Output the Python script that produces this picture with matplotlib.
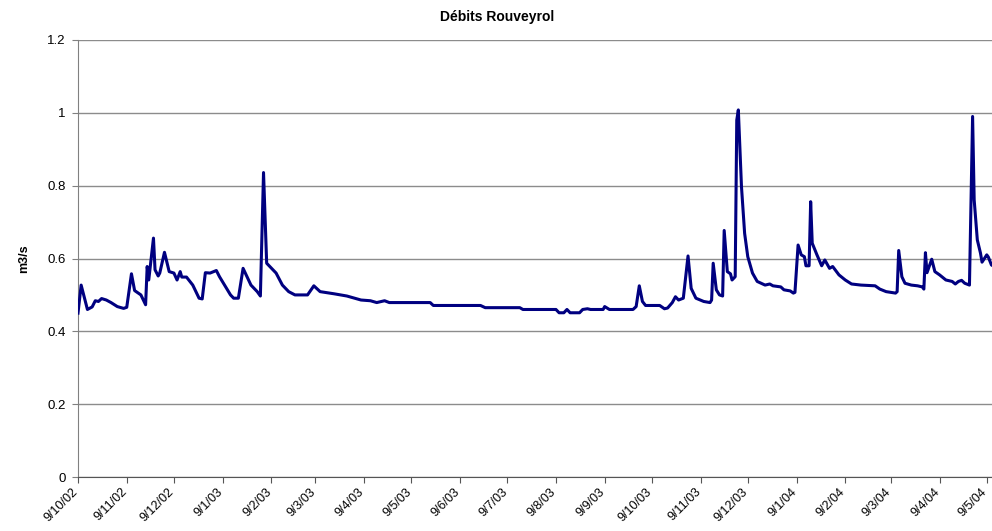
import matplotlib
matplotlib.use("Agg")
import matplotlib.pyplot as plt
import matplotlib.transforms as mtransforms
import pandas as pd

title = "Débits Rouveyrol"
ylabel = "m3/s"
start_date = "2002-10-09"

# days since 9/10/02 and flow (m3/s)
days = [0, 2, 6, 9, 11, 13, 15, 18, 21, 25, 29, 31, 34, 36, 40, 43, 44, 45, 48, 49,
        51, 52, 55, 58, 61, 63, 65, 66, 69, 73, 77, 79, 81, 84, 88, 90, 95, 97, 99, 102,
        105, 110, 114, 116, 118, 120, 122, 126, 130, 134, 138, 146, 150, 154, 163, 171, 180, 186, 190, 195,
        198, 224, 226, 256, 259, 281, 283, 304, 306, 309, 311, 313, 319, 321, 324, 326, 334, 335, 338, 353,
        355, 357, 359, 361, 370, 373, 375, 378, 380, 382, 385, 388, 390, 393, 398, 402, 403, 404, 406, 408,
        410, 411, 413, 415, 416, 418, 419, 420, 422, 424, 426, 429, 432, 437, 440, 442, 447, 449, 453, 455,
        456, 458, 460, 462, 463, 465, 466, 467, 470, 473, 475, 478, 480, 484, 488, 492, 498, 507, 510, 514,
        520, 521, 522, 524, 526, 530, 534, 537, 538, 539, 540, 543, 545, 548, 552, 556, 558, 560, 562, 564,
        567, 569, 570, 572, 574, 575, 578, 579, 581, 583]
flow = [0.450, 0.527, 0.460, 0.467, 0.484, 0.482, 0.490, 0.486, 0.479, 0.468, 0.463, 0.466, 0.558, 0.512, 0.500, 0.473, 0.578, 0.541, 0.656, 0.569,
        0.552, 0.560, 0.617, 0.564, 0.560, 0.541, 0.564, 0.549, 0.549, 0.527, 0.491, 0.489, 0.561, 0.560, 0.567, 0.550, 0.514, 0.500, 0.491, 0.491,
        0.573, 0.527, 0.509, 0.497, 0.836, 0.587, 0.578, 0.560, 0.527, 0.509, 0.500, 0.500, 0.525, 0.509, 0.503, 0.497, 0.486, 0.484, 0.479, 0.484,
        0.479, 0.479, 0.471, 0.471, 0.465, 0.465, 0.460, 0.460, 0.451, 0.451, 0.460, 0.451, 0.451, 0.460, 0.462, 0.460, 0.460, 0.468, 0.460, 0.460,
        0.468, 0.525, 0.482, 0.471, 0.471, 0.462, 0.464, 0.479, 0.495, 0.486, 0.491, 0.607, 0.518, 0.491, 0.482, 0.479, 0.486, 0.587, 0.514, 0.500,
        0.497, 0.677, 0.564, 0.558, 0.541, 0.550, 0.980, 1.008, 0.797, 0.669, 0.605, 0.560, 0.537, 0.527, 0.530, 0.525, 0.522, 0.514, 0.511, 0.505,
        0.507, 0.637, 0.610, 0.605, 0.580, 0.580, 0.756, 0.642, 0.610, 0.580, 0.596, 0.573, 0.578, 0.555, 0.541, 0.530, 0.527, 0.525, 0.516, 0.509,
        0.505, 0.509, 0.622, 0.550, 0.532, 0.527, 0.525, 0.522, 0.516, 0.616, 0.561, 0.598, 0.564, 0.555, 0.541, 0.537, 0.530, 0.537, 0.540, 0.532,
        0.527, 0.990, 0.761, 0.651, 0.615, 0.590, 0.610, 0.604, 0.582, 0.578]

tick_labels = ["9/10/02", "9/11/02", "9/12/02", "9/1/03", "9/2/03", "9/3/03", "9/4/03", "9/5/03",
               "9/6/03", "9/7/03", "9/8/03", "9/9/03", "9/10/03", "9/11/03", "9/12/03", "9/1/04",
               "9/2/04", "9/3/04", "9/4/04", "9/5/04"]
y_ticks = [0, 0.2, 0.4, 0.6, 0.8, 1.0, 1.2]
y_tick_labels = ["0", "0.2", "0.4", "0.6", "0.8", "1", "1.2"]

plt.rcParams["font.family"] = ["Liberation Sans", "DejaVu Sans"]

t0 = pd.Timestamp(start_date)
dates = t0 + pd.to_timedelta(days, unit="D")
tick_dates = pd.to_datetime(tick_labels, format="%d/%m/%y")

fig = plt.figure(figsize=(9.92, 5.31), dpi=100)
ax = fig.add_axes([78 / 992, 54 / 531, 1 - 78 / 992 + 0.002, (477 - 40) / 531])

ax.plot(dates, flow, color="#000080", lw=2.2, solid_joinstyle="round", zorder=3)

ax.set_ylim(0, 1.2)
ax.set_yticks(y_ticks)
ax.set_yticklabels(y_tick_labels, fontsize=9.5)
ax.set_xlim(t0, t0 + pd.Timedelta(days=582.6))
ax.set_xticks(tick_dates)
ax.set_xticklabels([])

# rotated date labels, shifted slightly left of their tick (as in the reference)
offset = mtransforms.ScaledTranslation(-6 / 100, -9 / 100, fig.dpi_scale_trans)
xtrans = ax.get_xaxis_transform() + offset
for d, lab in zip(tick_dates, tick_labels):
    ax.text(d, 0, lab, transform=xtrans, fontsize=9, rotation=45, ha="right", va="top",
            rotation_mode="anchor", clip_on=False)

ax.yaxis.grid(True, color="#8c8c8c", lw=1.0)
ax.set_axisbelow(True)
for s in ["top", "right"]:
    ax.spines[s].set_visible(False)
ax.spines["left"].set_color("#808080")
ax.spines["bottom"].set_color("#555555")
ax.tick_params(axis="y", length=4, color="#808080", pad=5)
ax.tick_params(axis="x", length=4, color="#555555", pad=4)

ax.set_ylabel(ylabel, fontsize=9, fontweight="bold")
ax.yaxis.set_label_coords((30 - 78) / 914, 0.5)
fig.text(497 / 992, 1 - 17 / 531, title, fontsize=10, fontweight="bold", ha="center", va="center")

fig.savefig("out.png", dpi=100)
